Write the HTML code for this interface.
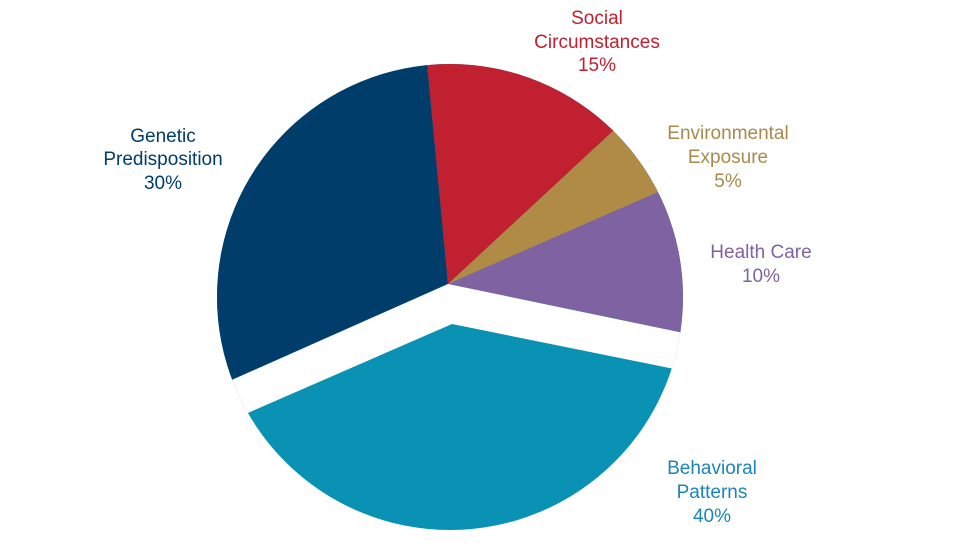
<!DOCTYPE html>
<html><head><meta charset="utf-8"><style>
body{margin:0;background:#fff;}
svg text{font-family:"Liberation Sans",sans-serif;font-size:19px;text-anchor:middle;}
</style></head><body>
<svg width="960" height="540" viewBox="0 0 960 540">
<defs><clipPath id="c"><circle cx="450" cy="297" r="233"/></clipPath></defs>
<g clip-path="url(#c)">
<rect x="0" y="0" width="960" height="540" fill="#0a92b5"/>
<polygon points="448,284 146,418 0,418 0,-10 421,-10 421,0" fill="#003d6b"/>
<polygon points="448,284 421,0 421,-200 946,-178" fill="#c0202f"/>
<polygon points="448,284 946,-178 864,102" fill="#b08b45"/>
<polygon points="448,284 864,102 912,380" fill="#7f62a2"/>
<polygon points="448,284 146,418 149,456 452,324 714,377 703,337" fill="#fff"/>
</g>
<g fill="#c0202f"><text x="597" y="24">Social</text><text x="597" y="48">Circumstances</text><text x="597" y="71">15%</text></g>
<g fill="#a88a4a"><text x="728" y="139">Environmental</text><text x="728" y="163">Exposure</text><text x="728" y="187">5%</text></g>
<g fill="#7f62a2"><text x="761" y="258">Health Care</text><text x="761" y="282">10%</text></g>
<g fill="#003d6b"><text x="163" y="142">Genetic</text><text x="163" y="165">Predisposition</text><text x="163" y="189">30%</text></g>
<g fill="#1a86b8"><text x="712" y="474">Behavioral</text><text x="712" y="498">Patterns</text><text x="712" y="522">40%</text></g>
</svg>
</body></html>
